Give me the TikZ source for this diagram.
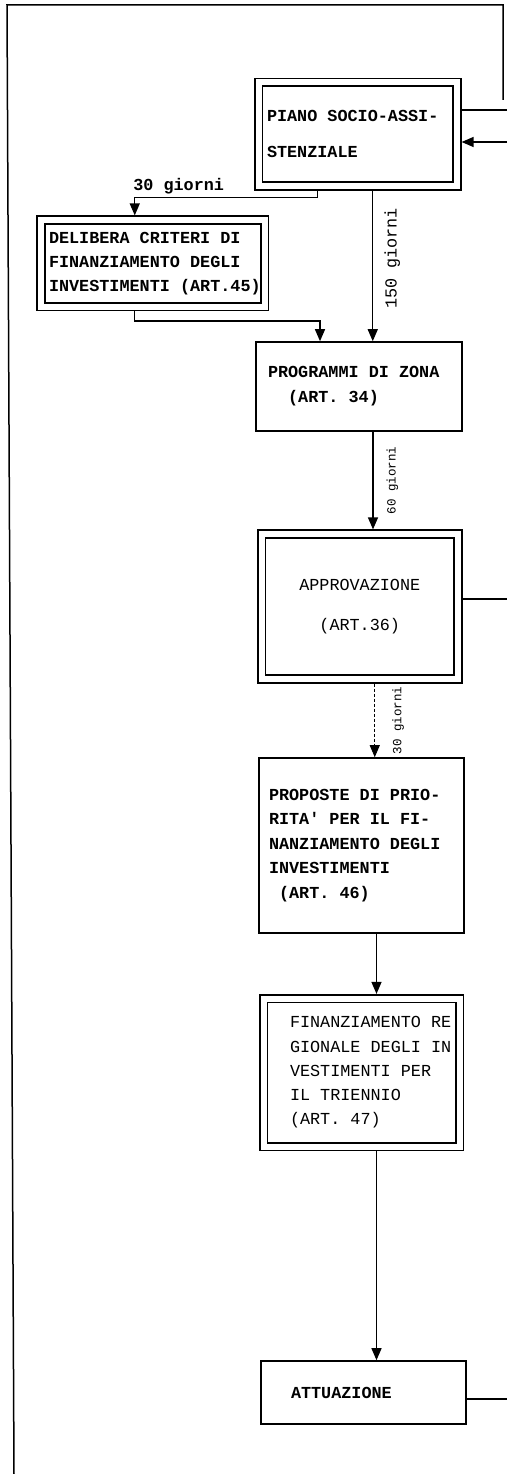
\documentclass[tikz,border=0pt]{standalone}
\usepackage{fontspec}
\usetikzlibrary{arrows.meta}
\newfontfamily\typew{Liberation Mono}
\tikzset{
  box/.style={draw,line width=1.6pt,inner xsep=0pt,align=left},
  dbox/.style={box,double,double distance=6pt,outer sep=4.6pt},
  heavy/.style={font=\typew\bfseries\fontsize{16.8}{20}\selectfont},
  light/.style={font=\typew\fontsize{16.8}{20}\selectfont},
  gap/.style={execute at begin node={\spaceskip=0pt\xspaceskip=0pt\baselineskip=#1pt\relax}},
  txt/.style 2 args={gap={#2},execute at begin node={\leftskip=#1pt\relax}},
  flow/.style={line width=1.3pt,-{Triangle[length=12pt,width=10pt]}},
  days/.style={rotate=90,anchor=north,font=\typew\fontsize{16.8}{20}\selectfont},
  small/.style={font=\typew\fontsize{12.5}{15}\selectfont}
}
\begin{document}
\begin{tikzpicture}[x=1pt,y=-1pt]
\useasboundingbox (0,0) rectangle (507,1474);
% frame of the page
\draw[line width=1.5pt] (14,1474) -- (7,5) -- (503,5) -- (503,100);
% boxes
\node[dbox,heavy,txt={8.5}{36},text width=198.5pt,minimum height=103.5pt] (pia) at (357.75,134.25)
  {PIANO SOCIO-ASSI-\\STENZIALE};
\node[dbox,heavy,txt={8}{24},text width=223.5pt,minimum height=86.5pt] (deli) at (152.75,263.25)
  {DELIBERA CRITERI DI\\FINANZIAMENTO DEGLI\\INVESTIMENTI (ART.45)};
\node[box,heavy,txt={12}{25},text width=206pt,minimum height=89pt] (prog) at (359,386.5)
  {PROGRAMMI DI ZONA\\\phantom{AA}(ART. 34)};
\node[dbox,light,align=center,gap=40,text width=196.5pt,minimum height=145pt] (appr) at (359.75,606.5)
  {APPROVAZIONE\\(ART.36)};
\node[box,heavy,txt={10}{24.5},text width=205pt,minimum height=175pt] (prop) at (361.5,845.5)
  {PROPOSTE DI PRIO-\\RITA\textquotesingle{} PER IL FI-\\NANZIAMENTO DEGLI\\INVESTIMENTI\\\phantom{A}(ART. 46)};
\node[dbox,light,txt={26.5}{24.25},text width=196pt,minimum height=148pt] (fin) at (361.5,1072.5)
  {FINANZIAMENTO RE\\GIONALE DEGLI IN\\VESTIMENTI PER\\IL TRIENNIO\\(ART. 47)};
\node[box,heavy,txt={30}{20},text width=205pt,minimum height=63pt] (att) at (363.5,1392.5)
  {ATTUAZIONE};
% connectors
\draw[flow] ([xshift=-40pt]pia.south) -- ++(0,7) -| node[pos=0.38,above,heavy] {30 giorni} ([xshift=-18pt]deli.north);
\draw[flow] ([xshift=-18pt]deli.south) -- ++(0,10) -| ([xshift=-39pt]prog.north);
\draw[flow] ([xshift=15pt]pia.south) -- node[days,pos=0.45,inner ysep=11pt] {150 giorni} ([xshift=15pt]pia.south |- prog.north);
\draw[flow] ([xshift=14pt]prog.south) -- node[days,small,inner ysep=13pt] {60 giorni} ([xshift=14pt]prog.south |- appr.north);
\draw[flow,densely dashed,line width=0.9pt] ([xshift=15pt]appr.south) -- node[days,small,inner ysep=17pt] {30 giorni} ([xshift=15pt]appr.south |- prop.north);
\draw[flow] ([xshift=15pt]prop.south) -- ([xshift=15pt]prop.south |- fin.north);
\draw[flow] ([xshift=15pt]fin.south) -- ([xshift=15pt]fin.south |- att.north);
% links leaving the page on the right
\coordinate (e1) at (507,110);
\coordinate (e2) at (507,142);
\coordinate (e3) at (507,599);
\coordinate (e4) at (507,1399);
\draw[line width=1.3pt] (pia.east |- e1) -- (e1);
\draw[flow] (e2) -- (e2 -| pia.east);
\draw[line width=1.3pt] (appr.east |- e3) -- (e3);
\draw[line width=1.3pt] (att.east |- e4) -- (e4);
\end{tikzpicture}
\end{document}
